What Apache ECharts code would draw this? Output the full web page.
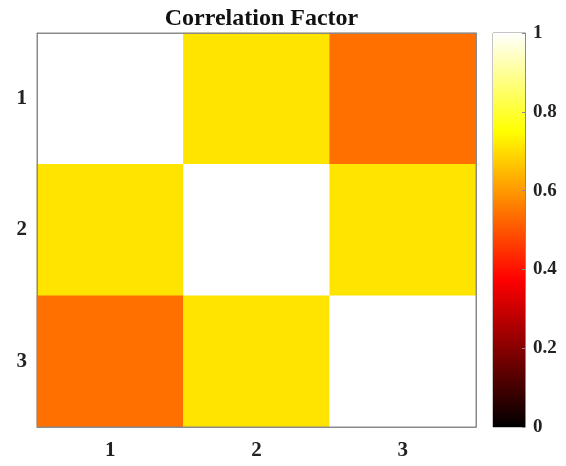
<!DOCTYPE html>
<html><head><meta charset="utf-8">
<script src="https://cdn.jsdelivr.net/npm/echarts@6/dist/echarts.min.js"></script>
<style>html,body{margin:0;padding:0;background:#fff}#c{width:566px;height:466px}</style>
</head><body><div id="c"></div>
<script>
const xCategories = ['1', '2', '3'];
const yCategories = ['1', '2', '3'];
const matrix = [
  [1.00, 0.71, 0.54],
  [0.71, 1.00, 0.71],
  [0.54, 0.71, 1.00]
];
const colorbarTicks = [0, 0.2, 0.4, 0.6, 0.8, 1];
const hotColors = ['#000000', '#550000', '#aa0000', '#ff0000', '#ff5500', '#ffaa00', '#ffff00', '#ffff80', '#ffffff'];

const data = [];
matrix.forEach((row, r) => row.forEach((v, c) => data.push([c, r, v])));

const font = 'Liberation Serif';
const axisGray = '#8a8a8a';
const tickStyle = {inside: true, alignWithLabel: true, length: 5, lineStyle: {color: axisGray}};
const chart = echarts.init(document.getElementById('c'), null, {renderer: 'canvas'});
chart.setOption({
  animation: false,
  backgroundColor: '#fff',
  title: {
    text: 'Correlation Factor', left: 256.5, top: 2, textAlign: 'center',
    textStyle: {fontFamily: font, fontWeight: 'bold', fontSize: 24, color: '#111'}
  },
  grid: [
    {left: 37, top: 33, width: 439, height: 394, show: true, borderColor: axisGray, borderWidth: 1, z: 5},
    {left: 493, top: 33, width: 32, height: 394, show: true, borderColor: axisGray, borderWidth: 1}
  ],
  xAxis: [
    {type: 'category', gridIndex: 0, data: xCategories, position: 'bottom', z: 10,
     axisLine: {lineStyle: {color: axisGray}}, axisTick: tickStyle,
     axisLabel: {fontFamily: font, fontWeight: 'bold', fontSize: 21, color: '#222', margin: 13}, splitLine: {show: false}},
    {type: 'category', gridIndex: 0, data: xCategories, position: 'top', z: 10,
     axisLine: {lineStyle: {color: axisGray}}, axisTick: tickStyle,
     axisLabel: {show: false}},
    {type: 'category', gridIndex: 1, data: ['cb'], show: false}
  ],
  yAxis: [
    {type: 'category', gridIndex: 0, data: yCategories, inverse: true, position: 'left', z: 10,
     axisLine: {lineStyle: {color: axisGray}}, axisTick: tickStyle,
     axisLabel: {fontFamily: font, fontWeight: 'bold', fontSize: 21, color: '#222', margin: 10}},
    {type: 'category', gridIndex: 0, data: yCategories, inverse: true, position: 'right', z: 10,
     axisLine: {lineStyle: {color: axisGray}}, axisTick: tickStyle,
     axisLabel: {show: false}},
    {type: 'value', gridIndex: 1, min: 0, max: 1, interval: 0.2, position: 'right', z: 10,
     axisLine: {show: true, lineStyle: {color: axisGray}}, axisTick: {show: true, inside: true, length: 3, lineStyle: {color: axisGray}},
     splitLine: {show: false},
     axisLabel: {fontFamily: font, fontWeight: 'bold', fontSize: 19, color: '#222', margin: 8,
       formatter: v => colorbarTicks.includes(+v.toFixed(1)) ? String(+v.toFixed(1)) : ''}}
  ],
  visualMap: {
    show: false, min: 0, max: 1, seriesIndex: 0, dimension: 2,
    inRange: {color: hotColors}
  },
  series: [
    {type: 'heatmap', xAxisIndex: 0, yAxisIndex: 0, data: data, itemStyle: {borderWidth: 0}},
    {type: 'bar', xAxisIndex: 2, yAxisIndex: 2, data: [1], barWidth: '100%', z: 1,
     itemStyle: {color: new echarts.graphic.LinearGradient(0, 1, 0, 0,
       hotColors.map((c, i) => ({offset: i / (hotColors.length - 1), color: c})))}}
  ]
});
</script></body></html>
